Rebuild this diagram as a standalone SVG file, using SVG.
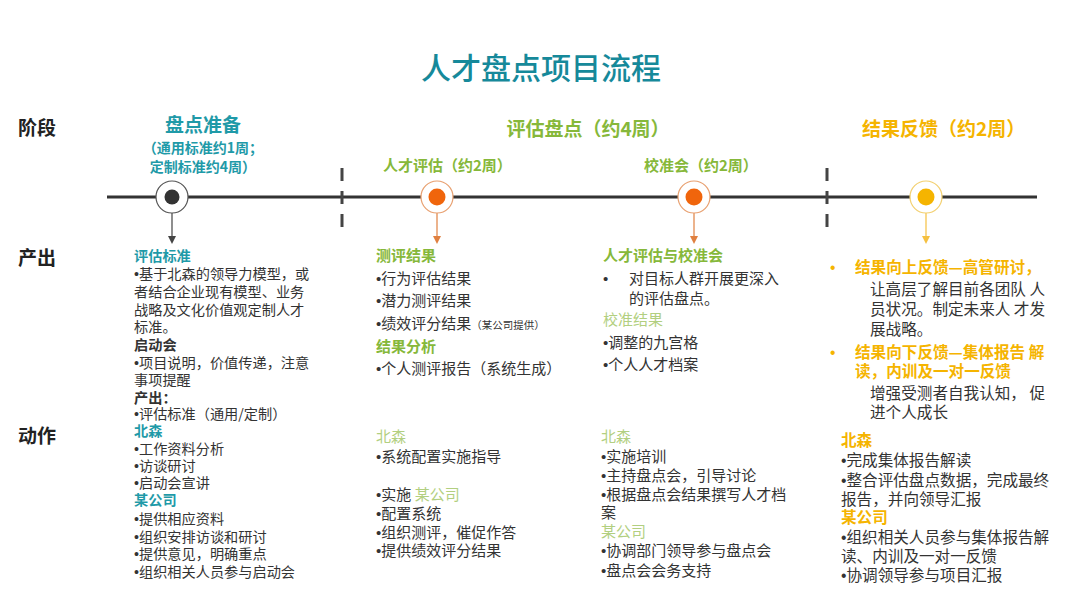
<svg xmlns="http://www.w3.org/2000/svg" width="1080" height="608" viewBox="0 0 1080 608">
<style>
text{font-family:"Noto Sans CJK SC","Liberation Sans",sans-serif;}
.bu{font-family:"Liberation Sans",sans-serif;}
.t{font-size:14.2px;fill:#333;}
.tb{font-size:15px;fill:#333;}
.tc{font-size:15.6px;fill:#333;}
.b{font-weight:bold;}
.teal{fill:#1f9aa8;}
.grn{fill:#86b83a;}
.lg{fill:#b2cf80;}
.yel{fill:#f5b400;}
.lab{font-size:19px;font-weight:bold;fill:#222;}
</style>
<defs>
<marker id="ad" markerWidth="8" markerHeight="8" refX="4" refY="4" orient="auto" markerUnits="userSpaceOnUse"><path d="M0,0 L8,4 L0,8 Z" fill="#444"/></marker>
<marker id="ao" markerWidth="8" markerHeight="8" refX="4" refY="4" orient="auto" markerUnits="userSpaceOnUse"><path d="M0,0 L8,4 L0,8 Z" fill="#e08040"/></marker>
<marker id="ay" markerWidth="8" markerHeight="8" refX="4" refY="4" orient="auto" markerUnits="userSpaceOnUse"><path d="M0,0 L8,4 L0,8 Z" fill="#f5c040"/></marker>
</defs>
<rect width="1080" height="608" fill="#fff"/>
<text x="541" y="79" text-anchor="middle" font-size="30" font-weight="500" fill="#16899a">人才盘点项目流程</text>

<g id="row-labels">
<text class="lab" x="18" y="135">阶段</text>
<text class="lab" x="18" y="265">产出</text>
<text class="lab" x="18" y="443">动作</text>
</g>

<g id="timeline">
<line x1="107" y1="197" x2="1037" y2="197" stroke="#333" stroke-width="3"/>
<line x1="342" y1="168" x2="342" y2="228" stroke="#444" stroke-width="3" stroke-dasharray="13 10"/>
<line x1="827" y1="168" x2="827" y2="228" stroke="#444" stroke-width="3" stroke-dasharray="13 10"/>
</g>

<g id="connectors">
<line x1="172" y1="213" x2="172" y2="240" stroke="#444" stroke-width="1.2" marker-end="url(#ad)"/>
<line x1="437" y1="213" x2="437" y2="240" stroke="#e08040" stroke-width="1.2" marker-end="url(#ao)"/>
<line x1="694" y1="213" x2="694" y2="240" stroke="#e08040" stroke-width="1.2" marker-end="url(#ao)"/>
<line x1="926" y1="213" x2="926" y2="240" stroke="#f5c040" stroke-width="1.2" marker-end="url(#ay)"/>
</g>

<g id="stage1">
<text x="203" y="132" text-anchor="middle" font-size="19" font-weight="bold" class="teal">盘点准备</text>
<text x="203" y="153" text-anchor="middle" font-size="14" font-weight="bold" class="teal">（通用标准约1周；</text>
<text x="203" y="172" text-anchor="middle" font-size="14" font-weight="bold" class="teal">定制标准约4周）</text>
<circle cx="172" cy="197" r="16" fill="#fff" stroke="#555" stroke-width="1.2"/>
<circle cx="172" cy="197" r="7.5" fill="#333"/>
</g>

<g id="stage2">
<text x="588" y="136" text-anchor="middle" font-size="19" font-weight="bold" class="grn">评估盘点（约4周）</text>
<text x="383" y="171" font-size="15" font-weight="bold" class="grn">人才评估（约2周）</text>
<text x="644" y="171" font-size="15" font-weight="bold" class="grn">校准会（约2周）</text>
<circle cx="437" cy="197" r="16" fill="#fff" stroke="#e8a070" stroke-width="1.2"/>
<circle cx="437" cy="197" r="8.5" fill="#f0650c"/>
<circle cx="694" cy="197" r="16" fill="#fff" stroke="#e8a070" stroke-width="1.2"/>
<circle cx="694" cy="197" r="8.5" fill="#f0650c"/>
</g>

<g id="stage3">
<text x="862" y="136" font-size="19" font-weight="bold" class="yel">结果反馈（约2周）</text>
<circle cx="926" cy="197" r="16" fill="#fff" stroke="#f3d070" stroke-width="1.2"/>
<circle cx="926" cy="197" r="8.5" fill="#f5b400"/>
</g>

<g id="col1">
<text class="t b teal" x="134" y="261">评估标准</text>
<text class="t" x="134" y="279"><tspan class="bu">•</tspan>基于北森的领导力模型，或</text>
<text class="t" x="134" y="297">者结合企业现有模型、业务</text>
<text class="t" x="134" y="315">战略及文化价值观定制人才</text>
<text class="t" x="134" y="332">标准。</text>
<text class="t b" x="134" y="350">启动会</text>
<text class="t" x="134" y="368"><tspan class="bu">•</tspan>项目说明，价值传递，注意</text>
<text class="t" x="134" y="385">事项提醒</text>
<text class="t b" x="134" y="403">产出：</text>
<text class="t" x="134" y="419"><tspan class="bu">•</tspan>评估标准（通用/定制）</text>
<text class="t b teal" x="134" y="436">北森</text>
<text class="t" x="134" y="454"><tspan class="bu">•</tspan>工作资料分析</text>
<text class="t" x="134" y="471"><tspan class="bu">•</tspan>访谈研讨</text>
<text class="t" x="134" y="488"><tspan class="bu">•</tspan>启动会宣讲</text>
<text class="t b teal" x="134" y="505">某公司</text>
<text class="t" x="134" y="524"><tspan class="bu">•</tspan>提供相应资料</text>
<text class="t" x="134" y="542"><tspan class="bu">•</tspan>组织安排访谈和研讨</text>
<text class="t" x="134" y="559"><tspan class="bu">•</tspan>提供意见，明确重点</text>
<text class="t" x="134" y="577"><tspan class="bu">•</tspan>组织相关人员参与启动会</text>
</g>

<g id="col2">
<text class="tb b grn" x="376" y="261">测评结果</text>
<text class="tb" x="376" y="284"><tspan class="bu">•</tspan>行为评估结果</text>
<text class="tb" x="376" y="306"><tspan class="bu">•</tspan>潜力测评结果</text>
<text class="tb" x="376" y="329"><tspan class="bu">•</tspan>绩效评分结果<tspan font-size="10.5">（某公司提供）</tspan></text>
<text class="tb b grn" x="376" y="352">结果分析</text>
<text class="tb" x="376" y="374"><tspan class="bu">•</tspan>个人测评报告（系统生成）</text>
<text class="tb lg" x="376" y="442">北森</text>
<text class="tb" x="376" y="462"><tspan class="bu">•</tspan>系统配置实施指导</text>
<text class="tb" x="376" y="500"><tspan class="bu">•</tspan>实施 <tspan class="lg">某公司</tspan></text>
<text class="tb" x="376" y="519"><tspan class="bu">•</tspan>配置系统</text>
<text class="tb" x="376" y="538"><tspan class="bu">•</tspan>组织测评，催促作答</text>
<text class="tb" x="376" y="556"><tspan class="bu">•</tspan>提供绩效评分结果</text>
</g>

<g id="col3">
<text class="tb b grn" x="603" y="261">人才评估与校准会</text>
<text class="tb bu" x="603" y="284">•</text>
<text class="tb" x="629" y="284">对目标人群开展更深入</text>
<text class="tb" x="629" y="304">的评估盘点。</text>
<text class="tb lg" x="603" y="325">校准结果</text>
<text class="tb" x="603" y="348"><tspan class="bu">•</tspan>调整的九宫格</text>
<text class="tb" x="603" y="370"><tspan class="bu">•</tspan>个人人才档案</text>
<text class="tb lg" x="601" y="442">北森</text>
<text class="tb" x="601" y="462"><tspan class="bu">•</tspan>实施培训</text>
<text class="tb" x="601" y="481"><tspan class="bu">•</tspan>主持盘点会，引导讨论</text>
<text class="tb" x="601" y="500"><tspan class="bu">•</tspan>根据盘点会结果撰写人才档</text>
<text class="tb" x="601" y="518">案</text>
<text class="tb lg" x="601" y="537">某公司</text>
<text class="tb" x="601" y="556"><tspan class="bu">•</tspan>协调部门领导参与盘点会</text>
<text class="tb" x="601" y="576"><tspan class="bu">•</tspan>盘点会会务支持</text>
</g>

<g id="col4">
<text class="tc yel bu" x="830" y="273">•</text>
<text class="tc b yel" x="855" y="273">结果向上反馈—高管研讨，</text>
<text class="tc" x="870" y="295">让高层了解目前各团队 人</text>
<text class="tc" x="870" y="315">员状况。制定未来人 才发</text>
<text class="tc" x="870" y="335">展战略。</text>
<text class="tc yel bu" x="830" y="358">•</text>
<text class="tc b yel" x="855" y="358">结果向下反馈—集体报告 解</text>
<text class="tc b yel" x="855" y="377">读，内训及一对一反馈</text>
<text class="tc" x="870" y="399">增强受测者自我认知， 促</text>
<text class="tc" x="870" y="418">进个人成长</text>
<text class="tc b yel" x="841" y="446">北森</text>
<text class="tc" x="841" y="466"><tspan class="bu">•</tspan>完成集体报告解读</text>
<text class="tc" x="841" y="486"><tspan class="bu">•</tspan>整合评估盘点数据，完成最终</text>
<text class="tc" x="841" y="505">报告，并向领导汇报</text>
<text class="tc b yel" x="841" y="523">某公司</text>
<text class="tc" x="841" y="543"><tspan class="bu">•</tspan>组织相关人员参与集体报告解</text>
<text class="tc" x="841" y="562">读、内训及一对一反馈</text>
<text class="tc" x="841" y="581"><tspan class="bu">•</tspan>协调领导参与项目汇报</text>
</g>
</svg>
